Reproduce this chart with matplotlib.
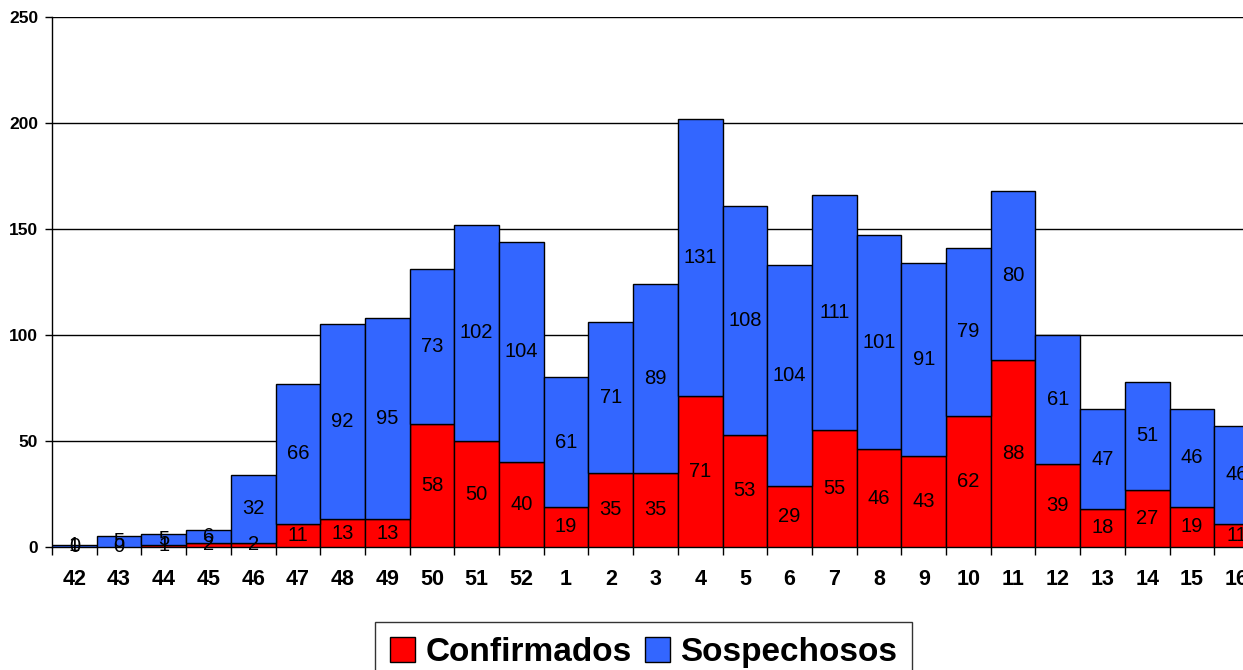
import numpy as np
import matplotlib
matplotlib.use("Agg")
import matplotlib.pyplot as plt

# semanas epidemiologicas
semanas = ["42", "43", "44", "45", "46", "47", "48", "49", "50", "51", "52",
           "1", "2", "3", "4", "5", "6", "7", "8", "9", "10", "11", "12",
           "13", "14", "15", "16"]
confirmados = [0, 0, 1, 2, 2, 11, 13, 13, 58, 50, 40, 19, 35, 35, 71, 53,
               29, 55, 46, 43, 62, 88, 39, 18, 27, 19, 11]
sospechosos = [1, 5, 5, 6, 32, 66, 92, 95, 73, 102, 104, 61, 71, 89, 131,
               108, 104, 111, 101, 91, 79, 80, 61, 47, 51, 46, 46]

plt.rcParams['font.family'] = ['Liberation Sans', 'DejaVu Sans']

fig = plt.figure(figsize=(12.43, 6.70), dpi=100)
# the plot runs past the right edge, last week is cut off
ax = fig.add_axes([52/1243, 1-547/670, 1207/1243, 530/670])

x = np.arange(len(semanas))
b1 = ax.bar(x, confirmados, width=1.0, color="#FF0000", edgecolor="black",
            linewidth=1, label="Confirmados", zorder=3)
b2 = ax.bar(x, sospechosos, width=1.0, bottom=confirmados, color="#3366FF",
            edgecolor="black", linewidth=1, label="Sospechosos", zorder=3)
ax.bar_label(b1, label_type="center", fontsize=14.5, zorder=4)
ax.bar_label(b2, label_type="center", fontsize=14.5, zorder=4)

ax.set_xlim(-0.5, len(semanas) - 0.5)
ax.set_ylim(0, 250)
ax.set_yticks(np.arange(0, 251, 50))
ax.yaxis.grid(True, color="black", linewidth=1, zorder=0)
ax.set_axisbelow(True)

ax.set_xticks(x)
ax.set_xticklabels(semanas, fontsize=15.5, fontweight="bold")
ax.set_xticks(np.arange(-0.5, len(semanas), 1.0), minor=True)
ax.tick_params(axis="x", which="major", length=0, pad=16)
ax.tick_params(axis="x", which="minor", length=6, width=1, color="black")
ax.tick_params(axis="y", length=5, width=1, pad=5, labelsize=12.5)
for lab in ax.get_yticklabels():
    lab.set_fontweight("bold")

for s in ["top", "right"]:
    ax.spines[s].set_visible(False)
for s in ["left", "bottom"]:
    ax.spines[s].set_color("black")
    ax.spines[s].set_linewidth(1)

leg = fig.legend(handles=[b1, b2], loc="upper center",
                 bbox_to_anchor=(643.5/1243, 1-622/670), ncol=2,
                 frameon=True, fancybox=False, edgecolor="black",
                 prop={"weight": "bold", "size": 24},
                 handlelength=0.75, handleheight=0.75, handletextpad=0.3,
                 columnspacing=0.4, borderpad=0.45, borderaxespad=0)
leg.get_frame().set_linewidth(1)

fig.savefig("out.png", dpi=100)
